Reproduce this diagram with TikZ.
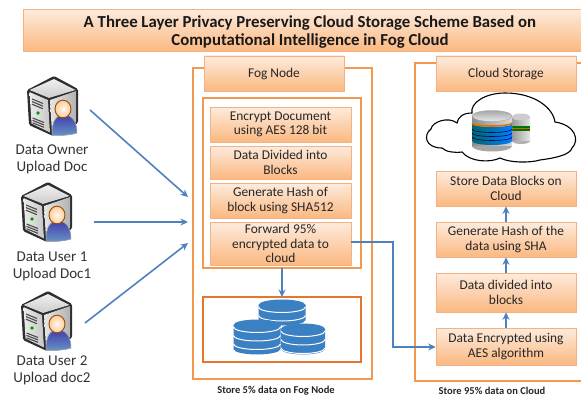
\documentclass[tikz,border=0pt]{standalone}
\usepackage{fontspec}
\setmainfont{Carlito}
\usetikzlibrary{arrows.meta,shadows}

\definecolor{boxline}{HTML}{F4B183}
\definecolor{boxtop}{HTML}{FDEBDD}
\definecolor{boxbottom}{HTML}{FBB880}
\definecolor{framecol}{HTML}{F2994F}
\definecolor{darkframe}{HTML}{E4772B}
\definecolor{arrowcol}{HTML}{4F81BD}
\definecolor{diskcol}{HTML}{3A80C2}

\tikzset{
  stepbox/.style={draw=boxline, line width=0.6pt, top color=boxtop, bottom color=boxbottom,
    drop shadow={shadow xshift=0.8pt, shadow yshift=-1.2pt, fill=black!50, opacity=0.6},
    text=black!85, align=center, font=\fontsize{13.4}{14.4}\selectfont, inner sep=0pt},
  frame/.style={draw=framecol, line width=1.5pt},
  flow/.style={draw=arrowcol, line width=1.6pt, -{Stealth[length=7.5pt,width=7pt]}},
  userlabel/.style={align=center, text=black!80, font=\fontsize{15}{17}\selectfont},
  caption/.style={font=\bfseries\fontsize{10.5}{11}\selectfont, text=black!85},
  serveruser/.pic={
    % dark case
    \fill[black!82, rounded corners=1.5pt] (28,-1) -- (52,12) -- (52,46) -- (27,59) -- (3,48) -- (1,13) -- cycle;
    \fill[top color=black!6, bottom color=black!20] (28,2) -- (49.5,13) -- (23,21) -- (3.5,13) -- cycle;
    \fill[left color=black!8, right color=black!22] (3.5,15) -- (22,23) -- (24,55.5) -- (5.5,46.5) -- cycle;
    \fill[left color=black!10, right color=black!30] (24,23) -- (50,14) -- (50,45) -- (26,56.5) -- cycle;
    \foreach \yy in {0,2.6,5.2} \draw[black!70, line width=1.1pt] (6,22+\yy) -- (17,26.5+\yy);
    \foreach \yy in {0,2.4,4.8} \draw[black!70, line width=1.1pt] (6.5,41+\yy) -- (18,45.5+\yy);
    \fill[green!60!black] (12,36) circle (1.9pt);
    % person
    \fill[top color=blue!55!black!75, bottom color=arrowcol!85, draw=black!30, line width=0.5pt]
      (26,58) .. controls (26,44) and (30,38) .. (38,38) .. controls (46,38) and (51,45) .. (51,56) .. controls (45,58) and (35,59) .. (26,58) -- cycle;
    \shade[inner color=orange!6, outer color=orange!40, draw=orange!60!black, line width=0.9pt] (37,32) ellipse (8pt and 8.8pt);
  }
}

\newcommand{\diskstack}[4]{%
  \fill[diskcol] (#1-#3,#2+5) -- (#1-#3,#4) arc (180:360:#3pt and 5.5pt) -- (#1+#3,#2+5) -- cycle;
  \fill[diskcol] (#1,#2+5) ellipse (#3pt and 5.5pt);
  \draw[white, line width=1pt] (#1-#3,#2+7) arc (180:360:#3pt and 5.5pt);
  \draw[white, line width=1pt] (#1-#3,#2+15.5) arc (180:360:#3pt and 5.5pt);
  \draw[white, line width=1pt] (#1-#3,#2+24) arc (180:360:#3pt and 5.5pt);
}

\begin{document}
\begin{tikzpicture}[x=1pt,y=-1pt]
  \useasboundingbox (0,0) rectangle (581,396);
  \clip (0,0) rectangle (581,396);

  % title
  \node[stepbox, minimum width=570pt, minimum height=42pt, anchor=north west] (title) at (23,9) {};
  \node[align=center, font=\bfseries\fontsize{16.8}{18}\selectfont, text=black!90] (titletext) at (310,32)
    {A Three Layer Privacy Preserving Cloud Storage Scheme Based on\\Computational Intelligence in Fog Cloud};

  % outer frames
  \draw[frame] (193,68) rectangle (372,379);
  \draw[frame] (590,63) -- (415,63) -- (415,381) -- (590,381);
  \draw[frame] (203,98) rectangle (361,268);
  \draw[darkframe, line width=1.5pt] (203,297) rectangle (361,362);

  % fog side
  \node[stepbox, minimum width=140pt, minimum height=35pt] (fognode) at (274,73.5) {Fog Node};
  \node[stepbox, minimum width=141pt, minimum height=35pt] (encrypt) at (280.5,124.5) {Encrypt Document\\using AES 128 bit};
  \node[stepbox, minimum width=141pt, minimum height=33pt] (divide) at (280.5,162.5) {Data Divided into\\Blocks};
  \node[stepbox, minimum width=141pt, minimum height=35pt] (hash) at (280.5,200.5) {Generate Hash of\\block using SHA512};
  \node[stepbox, minimum width=141pt, minimum height=43pt] (forward) at (280.5,243.5) {Forward 95\%\\encrypted data to\\cloud};

  % fog database
  \diskstack{282}{300}{23.5}{320}
  \diskstack{303}{324}{22}{349}
  \diskstack{257}{320}{23.5}{349}
  \coordinate (inner) at (282,268);
  \coordinate (store) at (282,297);
  \draw[flow] (inner) -- (store);
  \node[caption] (fogcap) at (276,391) {Store 5\% data on Fog Node};

  % cloud side
  \node[stepbox, minimum width=140pt, minimum height=35pt] (cloudnode) at (506,73.5) {Cloud Storage};
  \draw[black, line width=1.1pt, fill=white]
    (457,123) .. controls (448,116) and (432,122) .. (431,129)
    .. controls (423,135) and (425,148) .. (442,148)
    .. controls (446,152) and (455,153) .. (462,152)
    .. controls (470,162) and (490,163) .. (500,158)
    .. controls (510,163) and (530,163) .. (540,160)
    .. controls (555,158) and (570,155) .. (572,148)
    .. controls (580,140) and (575,125) .. (555,122)
    .. controls (553,108) and (535,93) .. (505,93)
    .. controls (485,93) and (470,103) .. (472,113)
    .. controls (463,113) and (458,117) .. (457,123) -- cycle;
  % small cylinder
  \shade[left color=black!40, right color=black!10] (512,117) rectangle (530,141);
  \fill[black!30] (512,141) arc (180:360:9pt and 3pt) -- cycle;
  \fill[green!45!black] (512,126) rectangle (530,131);
  \fill[orange!80!black] (512,127.5) rectangle (530,129);
  \fill[black!20] (521,117) ellipse (9pt and 3.5pt);
  % big cylinder
  \shade[left color=black!45, right color=black!15] (472,116) rectangle (512,146);
  \fill[black!35] (472,146) arc (180:360:20pt and 5.5pt) -- cycle;
  \shade[left color=teal!80!black, right color=cyan!50!blue] (472,124) arc (180:360:20pt and 3pt) -- (512,141) arc (360:180:20pt and 4pt) -- cycle;
  \draw[orange!90!black, line width=1.6pt] (472,123) arc (180:360:20pt and 3pt);
  \foreach \yy in {129,133,137} \draw[blue!40!black, line width=0.6pt] (472,\yy) arc (180:360:20pt and 3.5pt);
  \shade[top color=black!35, bottom color=black!8, draw=black!40, line width=0.3pt] (492,116) ellipse (20pt and 5.5pt);

  \node[stepbox, minimum width=140pt, minimum height=35pt] (storeblocks) at (506,188.5) {Store Data Blocks on\\Cloud};
  \node[stepbox, minimum width=140pt, minimum height=35pt] (genhash) at (506,239.5) {Generate Hash of the\\data using SHA};
  \node[stepbox, minimum width=140pt, minimum height=39pt] (dividecloud) at (506,292.5) {Data divided into\\blocks};
  \node[stepbox, minimum width=140pt, minimum height=37pt] (encryptcloud) at (506,346.5) {Data Encrypted using\\AES algorithm};
  \node[caption] (cloudcap) at (492,391) {Store 95\% data on Cloud};

  \draw[flow] (encryptcloud) -- (dividecloud);
  \draw[flow] (dividecloud) -- (genhash);
  \draw[flow] (genhash) -- (storeblocks);
  \draw[flow] (forward.east |- 0,242) -- (393,242) -- (393,347) -- (encryptcloud.west |- 0,347);

  % users
  \pic at (26,77) {serveruser};
  \pic at (20,183) {serveruser};
  \pic at (20,292) {serveruser};
  \node[userlabel] (owner) at (52,159.5) {Data Owner\\Upload Doc};
  \node[userlabel] (userone) at (52,266.5) {Data User 1\\Upload Doc1};
  \node[userlabel] (usertwo) at (52,370) {Data User 2\\Upload doc2};

  \coordinate (ownerout) at (90,110);
  \coordinate (oneout) at (94,222);
  \coordinate (twoout) at (85,323);
  \coordinate (ownerin) at (188,197);
  \coordinate (onein) at (188,222);
  \coordinate (twoin) at (188,243);
  \draw[flow] (ownerout) -- (ownerin);
  \draw[flow] (oneout) -- (onein);
  \draw[flow] (twoout) -- (twoin);
\end{tikzpicture}
\end{document}
